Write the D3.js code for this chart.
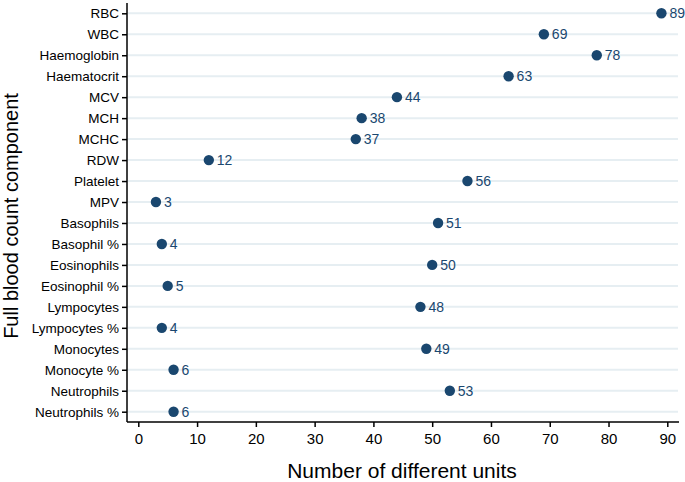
<!DOCTYPE html>
<html><head><meta charset="utf-8">
<script src="https://cdn.jsdelivr.net/npm/d3@7"></script>
<style>body{margin:0;background:#fff;} svg{display:block;font-family:"Liberation Sans",Arial,sans-serif;}</style>
</head><body>
<svg id="c" width="685" height="482"></svg>
<script>
const categories = ["RBC","WBC","Haemoglobin","Haematocrit","MCV","MCH","MCHC","RDW","Platelet","MPV","Basophils","Basophil %","Eosinophils","Eosinophil %","Lympocytes","Lympocytes %","Monocytes","Monocyte %","Neutrophils","Neutrophils %"];
const values = [89,69,78,63,44,38,37,12,56,3,51,4,50,5,48,4,49,6,53,6];
const xTicks = [0,10,20,30,40,50,60,70,80,90];
const xTitle = "Number of different units";
const yTitle = "Full blood count component";

const svg = d3.select("#c");
const navy = "#1a476f";
const x = d3.scaleLinear().domain([0,90]).range([138.3,667.3]);
const y = d3.scalePoint().domain(categories).range([13.3,411.7]);
const axisLeft = 127, axisBottom = 422, plotTop = 3, plotRight = 679;

// grid
svg.append("g").selectAll("line").data(categories).join("line")
  .attr("x1",axisLeft+1).attr("x2",plotRight-1)
  .attr("y1",d=>y(d)).attr("y2",d=>y(d))
  .attr("stroke","#e6eef2").attr("stroke-width",2);

// y axis
const ya = svg.append("g").attr("transform",`translate(${axisLeft},0)`)
  .call(d3.axisLeft(y).tickSize(5).tickPadding(3));
ya.select(".domain").attr("d",`M0,${plotTop}V${axisBottom}`).attr("stroke","#000").attr("stroke-width",1.5);
ya.selectAll(".tick line").attr("stroke","#000").attr("stroke-width",1.5);
ya.selectAll(".tick text").attr("font-size",13.5).attr("fill","#000").attr("font-family","Liberation Sans, Arial, sans-serif");

// x axis
const xa = svg.append("g").attr("transform",`translate(0,${axisBottom})`)
  .call(d3.axisBottom(x).tickValues(xTicks).tickSize(5).tickPadding(6));
xa.select(".domain").attr("d",`M${axisLeft},0H${plotRight}`).attr("stroke","#000").attr("stroke-width",1.5);
xa.selectAll(".tick line").attr("stroke","#000").attr("stroke-width",1.5);
xa.selectAll(".tick text").attr("font-size",15).attr("fill","#000").attr("font-family","Liberation Sans, Arial, sans-serif");

// dots and labels
const g = svg.append("g");
g.selectAll("circle").data(categories).join("circle")
  .attr("cx",(d,i)=>x(values[i])).attr("cy",d=>y(d)).attr("r",5.2).attr("fill",navy);
g.selectAll("text").data(categories).join("text")
  .attr("x",(d,i)=>x(values[i])+8).attr("y",d=>y(d)).attr("dy","0.36em")
  .attr("font-size",14).attr("fill",navy).text((d,i)=>values[i]);

// titles
svg.append("text").attr("x",402).attr("y",478)
  .attr("text-anchor","middle").attr("font-size",21).attr("fill","#000").text(xTitle);
svg.append("text").attr("transform",`translate(18,216) rotate(-90)`)
  .attr("text-anchor","middle").attr("font-size",20).attr("fill","#000").text(yTitle);
</script>
</body></html>
